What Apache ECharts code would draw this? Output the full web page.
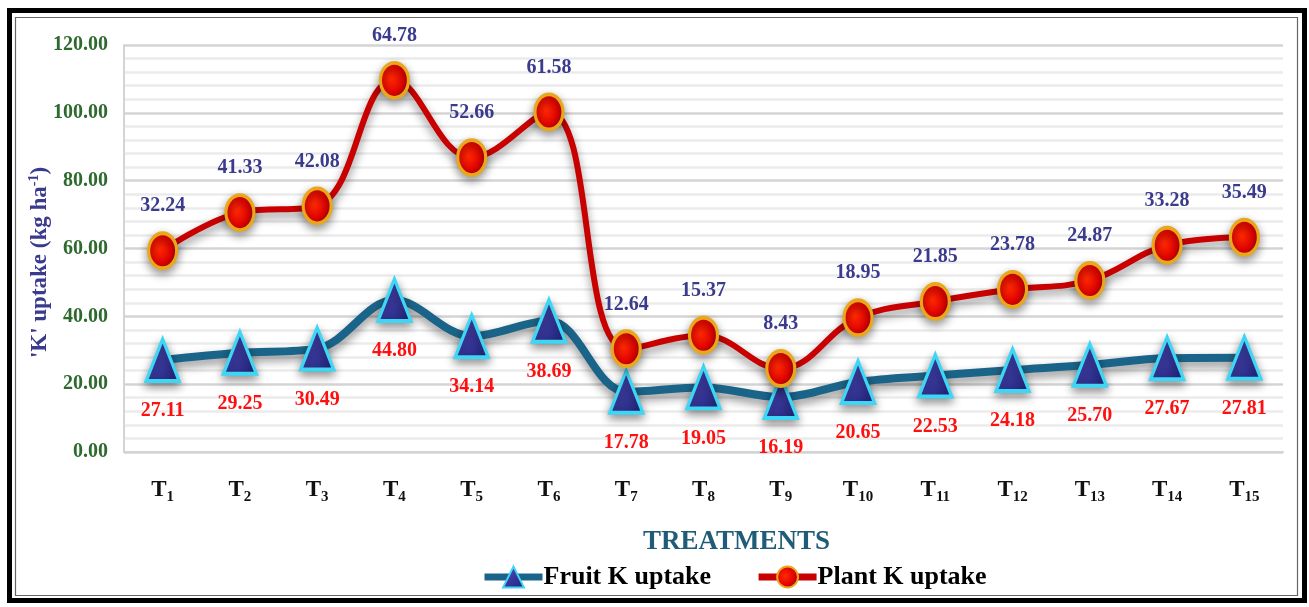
<!DOCTYPE html>
<html><head><meta charset="utf-8">
<script src="https://cdn.jsdelivr.net/npm/echarts@6/dist/echarts.min.js"></script>
<style>html,body{margin:0;padding:0;background:#fff}#c{width:1309px;height:607px}</style>
</head><body><div id="c"></div>
<script>
const categories = ['T1','T2','T3','T4','T5','T6','T7','T8','T9','T10','T11','T12','T13','T14','T15'];
const fruitK = [27.11, 29.25, 30.49, 44.80, 34.14, 38.69, 17.78, 19.05, 16.19, 20.65, 22.53, 24.18, 25.70, 27.67, 27.81];
const plantK = [32.24, 41.33, 42.08, 64.78, 52.66, 61.58, 12.64, 15.37, 8.43, 18.95, 21.85, 23.78, 24.87, 33.28, 35.49];
const yTicks = {min: 0, max: 120, interval: 20};

const serif = 'Liberation Serif';
const chart = echarts.init(document.getElementById('c'));
chart.setOption({
  animation: false,
  backgroundColor: '#fff',
  grid: {left: 124, right: 26, top: 45, bottom: 155},
  graphic: [
    {type: 'rect', shape: {x: 9.5, y: 10.5, width: 1295, height: 590}, style: {fill: 'none', stroke: '#000', lineWidth: 5}, z: 100},
    {type: 'rect', shape: {x: 15.5, y: 17.5, width: 1282, height: 578}, style: {fill: 'none', stroke: '#666', lineWidth: 1.2}, z: 100}
  ],
  xAxis: {
    type: 'category',
    data: categories,
    boundaryGap: true,
    name: 'TREATMENTS',
    nameLocation: 'middle',
    nameGap: 77,
    nameMoveOverlap: false,
    nameTextStyle: {fontFamily: serif, fontWeight: 'bold', fontSize: 27, color: '#1F5C78', padding: [0, 0, 0, 66]},
    axisLine: {show: true, lineStyle: {color: '#D4D4D4', width: 2}},
    axisTick: {show: false},
    axisLabel: {
      margin: 26,
      formatter: v => '{t|T}{s|' + v.slice(1) + '}',
      rich: {
        t: {fontFamily: serif, fontWeight: 'bold', fontSize: 23, color: '#111', lineHeight: 24},
        s: {fontFamily: serif, fontWeight: 'bold', fontSize: 15, color: '#111', lineHeight: 24, padding: [14, 0, 0, 0]}
      }
    }
  },
  yAxis: {
    type: 'value',
    min: yTicks.min, max: yTicks.max, interval: yTicks.interval,
    name: "{n|'K' uptake (kg ha}{p|-1}{n|)}",
    nameLocation: 'middle',
    nameGap: 72,
    nameMoveOverlap: false,
    nameTextStyle: {
      padding: [0, 28, 0, 0],
      rich: {
        n: {fontFamily: serif, fontWeight: 'bold', fontSize: 23, color: '#3B3B8E', lineHeight: 24},
        p: {fontFamily: serif, fontWeight: 'bold', fontSize: 14, color: '#3B3B8E', lineHeight: 24, padding: [0, 0, 12, 0]}
      }
    },
    axisLine: {show: true, lineStyle: {color: '#D4D4D4', width: 2}},
    axisTick: {show: false},
    axisLabel: {
      margin: 16,
      formatter: v => v.toFixed(2),
      fontFamily: serif, fontWeight: 'bold', fontSize: 20, color: '#2C6A2E'
    },
    splitLine: {lineStyle: {color: '#D4D4D4', width: 2.5}},
    minorTick: {show: false, splitNumber: 5},
    minorSplitLine: {show: true, lineStyle: {color: '#EBEBEB', width: 2.5}}
  },
  legend: {
    bottom: 12,
    left: 476,
    itemWidth: 58, itemHeight: 26,
    itemGap: 44,
    lineStyle: {width: 7},
    textStyle: {fontFamily: serif, fontWeight: 'bold', fontSize: 26, color: '#000', padding: [0, 0, 0, -4]},
    data: ['Fruit K uptake', 'Plant K uptake']
  },
  series: [
    {
      name: 'Fruit K uptake',
      type: 'line',
      stack: 'k',
      data: fruitK,
      smooth: 0.35,
      symbol: 'triangle',
      symbolSize: [33, 42],
      z: 3,
      lineStyle: {color: '#1B6489', width: 8, shadowColor: 'rgba(0,0,0,0.45)', shadowBlur: 10, shadowOffsetY: 5},
      itemStyle: {
        color: {type: 'linear', x: 0, y: 0, x2: 1, y2: 1, colorStops: [{offset: 0, color: '#5050C0'}, {offset: 1, color: '#22227A'}]},
        borderColor: '#3DD6F5', borderWidth: 3.5,
        shadowColor: 'rgba(0,0,0,0.4)', shadowBlur: 10, shadowOffsetY: 4
      },
      label: {
        show: true, position: 'bottom', distance: 18,
        formatter: p => p.value.toFixed(2),
        fontFamily: serif, fontWeight: 'bold', fontSize: 20, color: '#FF1010'
      }
    },
    {
      name: 'Plant K uptake',
      type: 'line',
      stack: 'k',
      data: plantK,
      smooth: 0.4,
      symbol: 'circle',
      symbolSize: [28, 35],
      z: 4,
      lineStyle: {color: '#C80000', width: 6, shadowColor: 'rgba(0,0,0,0.45)', shadowBlur: 10, shadowOffsetY: 5},
      itemStyle: {
        color: {type: 'radial', x: 0.4, y: 0.45, r: 0.6, colorStops: [{offset: 0, color: '#FF2A00'}, {offset: 0.7, color: '#E00000'}, {offset: 1, color: '#7A1000'}]},
        borderColor: '#E9A81C', borderWidth: 3.5,
        shadowColor: 'rgba(0,0,0,0.4)', shadowBlur: 10, shadowOffsetY: 4
      },
      label: {
        show: true, position: 'top', distance: 15,
        formatter: p => p.value.toFixed(2),
        fontFamily: serif, fontWeight: 'bold', fontSize: 20, color: '#3B3B8E'
      }
    }
  ]
});
</script></body></html>
